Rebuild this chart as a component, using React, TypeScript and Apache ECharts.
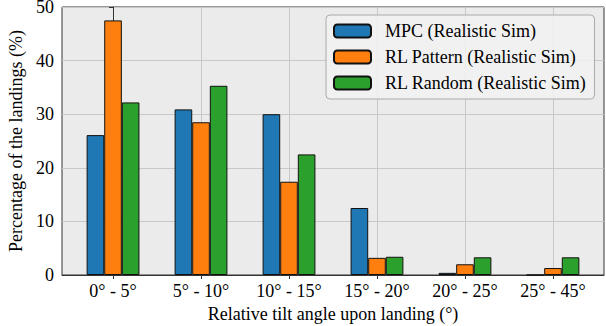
import React, { useEffect, useRef } from "react";
import * as echarts from "echarts";

const categories = ["0° - 5°", "5° - 10°", "10° - 15°", "15° - 20°", "20° - 25°", "25° - 45°"];
const seriesNames = ["MPC (Realistic Sim)", "RL Pattern (Realistic Sim)", "RL Random (Realistic Sim)"];
const mpc = [26.1, 30.9, 30.0, 12.5, 0.4, 0.0];
const rlPattern = [47.5, 28.5, 17.4, 3.2, 2.0, 1.3];
const rlRandom = [32.2, 35.3, 22.5, 3.4, 3.3, 3.3];
const colors = ["#1f77b4", "#ff7f0e", "#2ca02c"];
const yTicks = [0, 10, 20, 30, 40, 50];

const FONT = "Liberation Serif";

export default function App() {
  const ref = useRef<HTMLDivElement>(null);
  useEffect(() => {
    if (!ref.current) return;
    const chart = echarts.init(ref.current, null, { renderer: "svg" });
    const all = [mpc, rlPattern, rlRandom];
    const catIdx = categories.map((_, i) => i);
    const textBase = { fontFamily: FONT, fontSize: 18, color: "#000" };
    chart.setOption({
      animation: false,
      textStyle: { fontFamily: FONT },
      grid: {
        left: 62,
        right: 2,
        top: 7,
        bottom: 51,
        outerBoundsMode: "none",
        containLabel: false,
        show: true,
        backgroundColor: "#ebebeb",
        borderColor: "#333",
        borderWidth: 1,
      },
      legend: {
        orient: "vertical",
        left: 326,
        top: 15,
        padding: [7, 8, 7, 7],
        itemGap: 8,
        itemWidth: 37,
        itemHeight: 13,
        backgroundColor: "rgba(242,242,242,0.85)",
        borderColor: "#aaa",
        borderWidth: 1,
        borderRadius: 4,
        data: seriesNames,
        textStyle: { ...textBase, lineHeight: 18, padding: [0, 0, 0, 9] },
      },
      xAxis: {
        type: "value",
        min: -0.58,
        max: 5.58,
        name: "Relative tilt angle upon landing (°)",
        nameLocation: "middle",
        nameGap: 28,
        nameTextStyle: textBase,
        axisLine: { show: true, lineStyle: { color: "#333", width: 1 } },
        axisTick: { show: true, length: 4, customValues: catIdx, lineStyle: { color: "#333" } },
        axisLabel: {
          ...textBase,
          customValues: catIdx,
          formatter: (v: number) => categories[Math.round(v)] ?? "",
          margin: 7,
        },
        splitLine: { show: true, lineStyle: { color: "#c8c8c8", width: 1 } },
      },
      yAxis: {
        type: "value",
        min: 0,
        max: 50,
        interval: 10,
        name: "Percentage of the landings (%)",
        nameLocation: "middle",
        nameGap: 30,
        nameTextStyle: textBase,
        axisLine: { show: true, lineStyle: { color: "#333", width: 1 } },
        axisTick: { show: true, length: 4, lineStyle: { color: "#333" } },
        axisLabel: {
          ...textBase,
          margin: 8,
          formatter: (v: number) => (yTicks.includes(v) ? String(v) : ""),
        },
        splitLine: { show: true, lineStyle: { color: "#c8c8c8", width: 1 } },
      },
      series: all.map((arr, s) => ({
        name: seriesNames[s],
        type: "bar",
        barWidth: 17.6,
        barGap: "0%",
        data: arr.map((v, i) => [i, v]),
        itemStyle: { color: colors[s], borderColor: "#111", borderWidth: 1 },
      })),
    });
    return () => chart.dispose();
  }, []);
  return <div ref={ref} style={{ width: 606, height: 326, position: "absolute", left: 0, top: 0 }} />;
}
